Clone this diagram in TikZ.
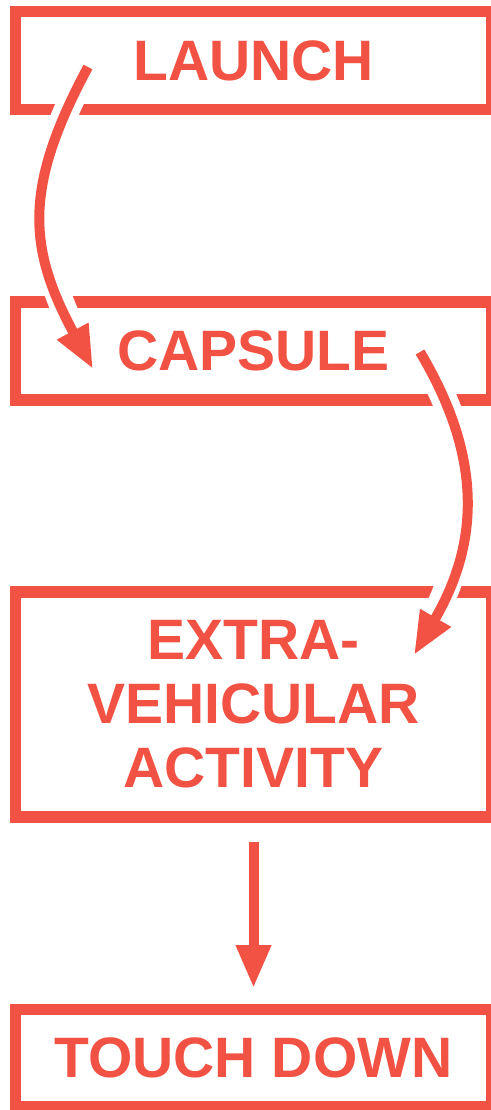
\documentclass[tikz,border=0pt]{standalone}
\usepackage{fontspec}
\setmainfont{Liberation Sans}
\usetikzlibrary{arrows.meta}
\definecolor{brand}{HTML}{F15244}
\begin{document}
\begin{tikzpicture}[x=1pt,y=-1pt,
  stagebox/.style={draw=brand, line width=11.5pt, minimum width=476pt, inner sep=0pt, outer sep=0pt,
    text=brand, font=\bfseries\fontsize{57}{64}\selectfont, align=center},
  halo/.style={draw=white, line width=26pt},
  flow/.style={draw=brand, line width=10pt, -{Triangle[length=43pt,width=33pt]}}]
\useasboundingbox (0,0) rectangle (490,1110);
\node[stagebox, minimum height=98pt] (launch) at (253.5,60.5) {LAUNCH};
\node[stagebox, minimum height=97.7pt] (capsule) at (253.5,351) {CAPSULE};
\node[stagebox, minimum height=225pt] (eva) at (253.5,704.5) {EXTRA-\\VEHICULAR\\ACTIVITY};
\node[stagebox, minimum height=97pt] (touch) at (253.5,1058) {TOUCH DOWN};
\coordinate (a1s) at (88,67);
\coordinate (a1e) at (93,369);
\coordinate (a2s) at (420,352);
\coordinate (a2e) at (414,655);
\draw[halo] (a1s) .. controls (23,188) and (28,248) .. (a1e);
\draw[halo] (a2s) .. controls (485,461) and (477.5,546) .. (a2e);
\draw[flow] (a1s) .. controls (23,188) and (28,248) .. (a1e);
\draw[flow] (a2s) .. controls (485,461) and (477.5,546) .. (a2e);
\draw[flow] ([yshift=-25pt]eva.south) -- ([yshift=21.5pt]touch.north);
\end{tikzpicture}
\end{document}
